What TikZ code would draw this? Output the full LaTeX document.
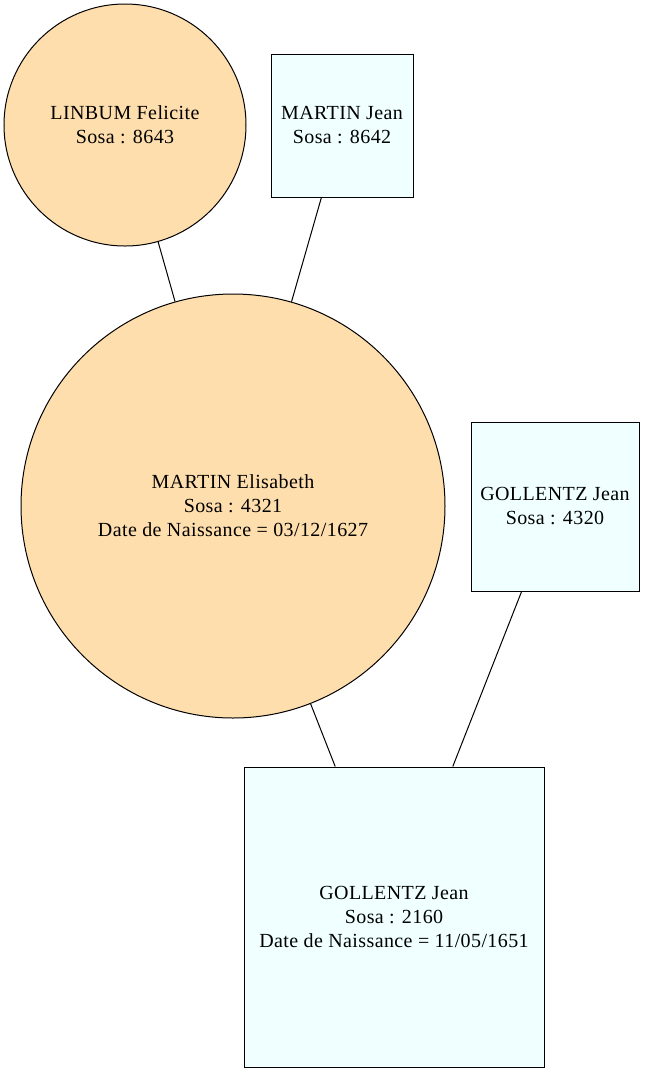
\documentclass[tikz,border=0pt]{standalone}
\usepackage{fontspec}
\setmainfont{Liberation Serif}[LetterSpace=2]
\usetikzlibrary{positioning, shapes.geometric}
\definecolor{navajo}{HTML}{FFDEAD}
\definecolor{azurebox}{HTML}{F0FFFF}
\tikzstyle{female} = [circle, inner sep=0pt, align=center, draw=black, line width=0.75pt, fill=navajo]
\tikzstyle{male} = [rectangle, inner sep=0pt, align=center, draw=black, line width=0.75pt, fill=azurebox]
\tikzstyle{link} = [line width=0.75pt]
\tikzset{
  font={\fontsize{15pt}{18}\selectfont}}

\begin{document}
\begin{tikzpicture}[x=0.75pt, y=-0.75pt]
    \useasboundingbox (0,0) rectangle (645,1072);
    \node (linbum) [female, minimum size=181.5pt] at (125,125) {LINBUM Felicite\\Sosa : 8643};
    \node (martinjean) [male, minimum width=106.5pt, minimum height=107.25pt] at (342,125.5) {MARTIN Jean\\Sosa : 8642};
    \node (elisabeth) [female, minimum size=318pt] at (233,506) {MARTIN Elisabeth\\Sosa : 4321\\Date de Naissance = 03/12/1627};
    \node (gollentzfather) [male, minimum width=126pt, minimum height=126.75pt] at (555,506.5) {GOLLENTZ Jean\\Sosa : 4320};
    \node (gollentzjean) [male, minimum size=225pt] at (394,917) {GOLLENTZ Jean\\Sosa : 2160\\Date de Naissance = 11/05/1651};

    \draw [link] (linbum) -- (elisabeth);
    \draw [link] (martinjean) -- (elisabeth);
    \draw [link] (elisabeth) -- (gollentzjean);
    \draw [link] (gollentzfather) -- (gollentzjean);
\end{tikzpicture}
\end{document}
